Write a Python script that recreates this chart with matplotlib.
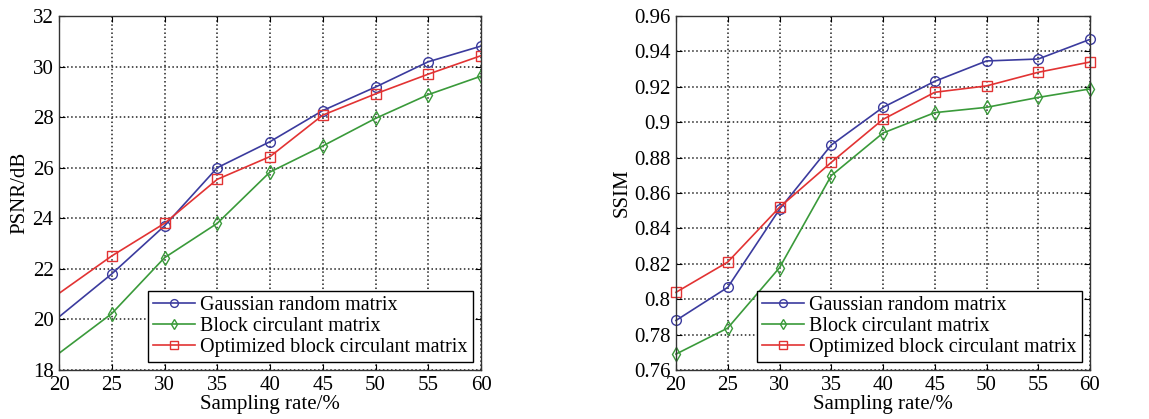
import matplotlib
matplotlib.use("Agg")
import matplotlib.pyplot as plt

plt.rcParams['font.family'] = ['Liberation Serif', 'DejaVu Serif']

x = [20, 25, 30, 35, 40, 45, 50, 55, 60]
labels = ["Gaussian random matrix", "Block circulant matrix", "Optimized block circulant matrix"]

psnr_gauss = [20.1, 21.8, 23.7, 26.0, 27.03, 28.26, 29.19, 30.19, 30.81]
psnr_block = [18.66, 20.23, 22.44, 23.8, 25.83, 26.86, 27.95, 28.89, 29.62]
psnr_opt = [21.03, 22.51, 23.8, 25.54, 26.44, 28.08, 28.92, 29.7, 30.43]

ssim_gauss = [0.788, 0.8067, 0.8508, 0.8871, 0.9084, 0.9231, 0.9346, 0.9357, 0.9468]
ssim_block = [0.769, 0.7837, 0.8178, 0.8698, 0.8939, 0.9054, 0.9084, 0.914, 0.9188]
ssim_opt = [0.8039, 0.821, 0.8519, 0.8773, 0.9016, 0.9169, 0.9205, 0.9282, 0.934]

psnr_ticks = [18, 20, 22, 24, 26, 28, 30, 32]
ssim_ticks = [0.76, 0.78, 0.80, 0.82, 0.84, 0.86, 0.88, 0.90, 0.92, 0.94, 0.96]
ssim_ticklabels = ["0.76", "0.78", "0.8", "0.82", "0.84", "0.86", "0.88", "0.9", "0.92", "0.94", "0.96"]

colors = ["#3b3b9e", "#3a9a3a", "#e23333"]
markers = ["o", "d", "s"]

fig = plt.figure(figsize=(11.49, 4.19), dpi=100)
ax1 = fig.add_axes([59/1149, 1-370/419, 422/1149, 354/419])
ax2 = fig.add_axes([676/1149, 1-370/419, 414/1149, 354/419])

def style(ax):
    ax.set_xlim(20, 60)
    ax.set_xticks(x)
    ax.grid(True, color='#222222', linestyle=':', linewidth=1.1)
    ax.tick_params(direction='in', top=True, right=True, labelsize=15, length=4, pad=4)
    for s in ax.spines.values():
        s.set_linewidth(1.0)
        s.set_color('#333333')
    ax.set_xlabel("Sampling rate/%", fontsize=15, labelpad=0)

for ys, c, m, lab in zip([psnr_gauss, psnr_block, psnr_opt], colors, markers, labels):
    ax1.plot(x, ys, color=c, marker=m, markerfacecolor='none', markeredgecolor=c,
             markersize=7, linewidth=1.2, label=lab, markevery=list(range(1, 9)))
ax1.set_ylim(18, 32)
ax1.set_yticks(psnr_ticks)
ax1.set_ylabel("PSNR/dB", fontsize=15, labelpad=2)
style(ax1)

for ys, c, m, lab in zip([ssim_gauss, ssim_block, ssim_opt], colors, markers, labels):
    ax2.plot(x, ys, color=c, marker=m, markerfacecolor='none', markeredgecolor=c,
             markersize=7, linewidth=1.2, label=lab, clip_on=False)
ax2.set_ylim(0.76, 0.96)
ax2.set_yticks(ssim_ticks)
ax2.set_yticklabels(ssim_ticklabels)
ax2.set_ylabel("SSIM", fontsize=15, labelpad=2)
style(ax2)

for ax in (ax1, ax2):
    leg = ax.legend(loc='lower right', fontsize=14.5, frameon=True, fancybox=False,
                    edgecolor='black', framealpha=1, handlelength=2.1,
                    handletextpad=0.25, borderpad=0.25, labelspacing=0.1,
                    borderaxespad=0.4, markerscale=0.8)
    leg.get_frame().set_linewidth(1.0)

fig.savefig("out.png", dpi=100)
